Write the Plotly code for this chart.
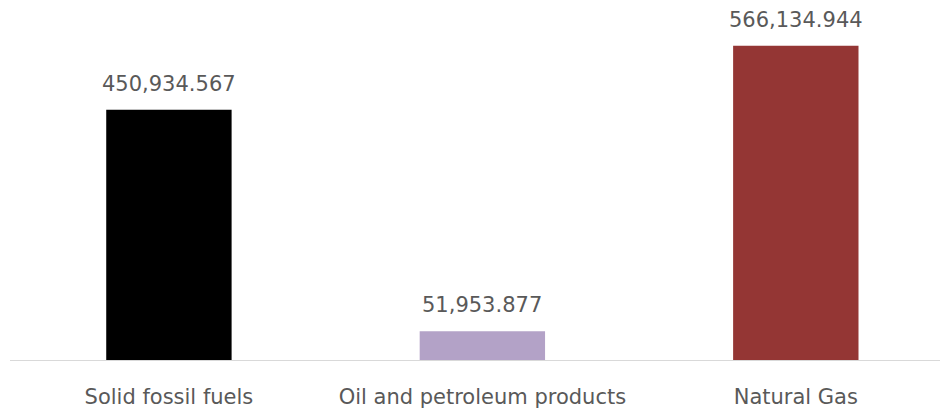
import plotly.graph_objects as go

categories = ["Solid fossil fuels", "Oil and petroleum products", "Natural Gas"]
values = [450934.567, 51953.877, 566134.944]
labels = ["450,934.567", "51,953.877", "566,134.944"]
colors = ["#000000", "#b3a2c7", "#943634"]

x = list(range(len(categories)))
FONT = "DejaVu Sans"

fig = go.Figure()
fig.add_trace(go.Bar(
    x=x, y=values, width=0.4,
    marker=dict(color=colors, line=dict(width=0)),
    hoverinfo="skip",
))

for xi, v, t in zip(x, values, labels):
    fig.add_annotation(x=xi, y=v, text=t, showarrow=False, yanchor="bottom",
                       yshift=12, font=dict(family=FONT, size=21, color="#595959"))

fig.update_layout(
    width=940, height=412,
    margin=dict(l=10, r=0, t=0, b=52),
    paper_bgcolor="white", plot_bgcolor="white",
    showlegend=False,
    font=dict(family=FONT, size=21, color="#595959"),
    xaxis=dict(
        range=[-0.507, 2.46], tickmode="array", tickvals=x, ticktext=categories,
        showgrid=False, zeroline=False, showline=True, linecolor="#d9d9d9", linewidth=1,
        ticks="", ticklabelstandoff=18,
        tickfont=dict(family=FONT, size=21, color="#595959"),
    ),
    yaxis=dict(range=[0, 648450], visible=False, showgrid=False, zeroline=False),
)

fig.write_html("out.html", post_script="document.body.style.margin='0';",
               config={"displayModeBar": False})
